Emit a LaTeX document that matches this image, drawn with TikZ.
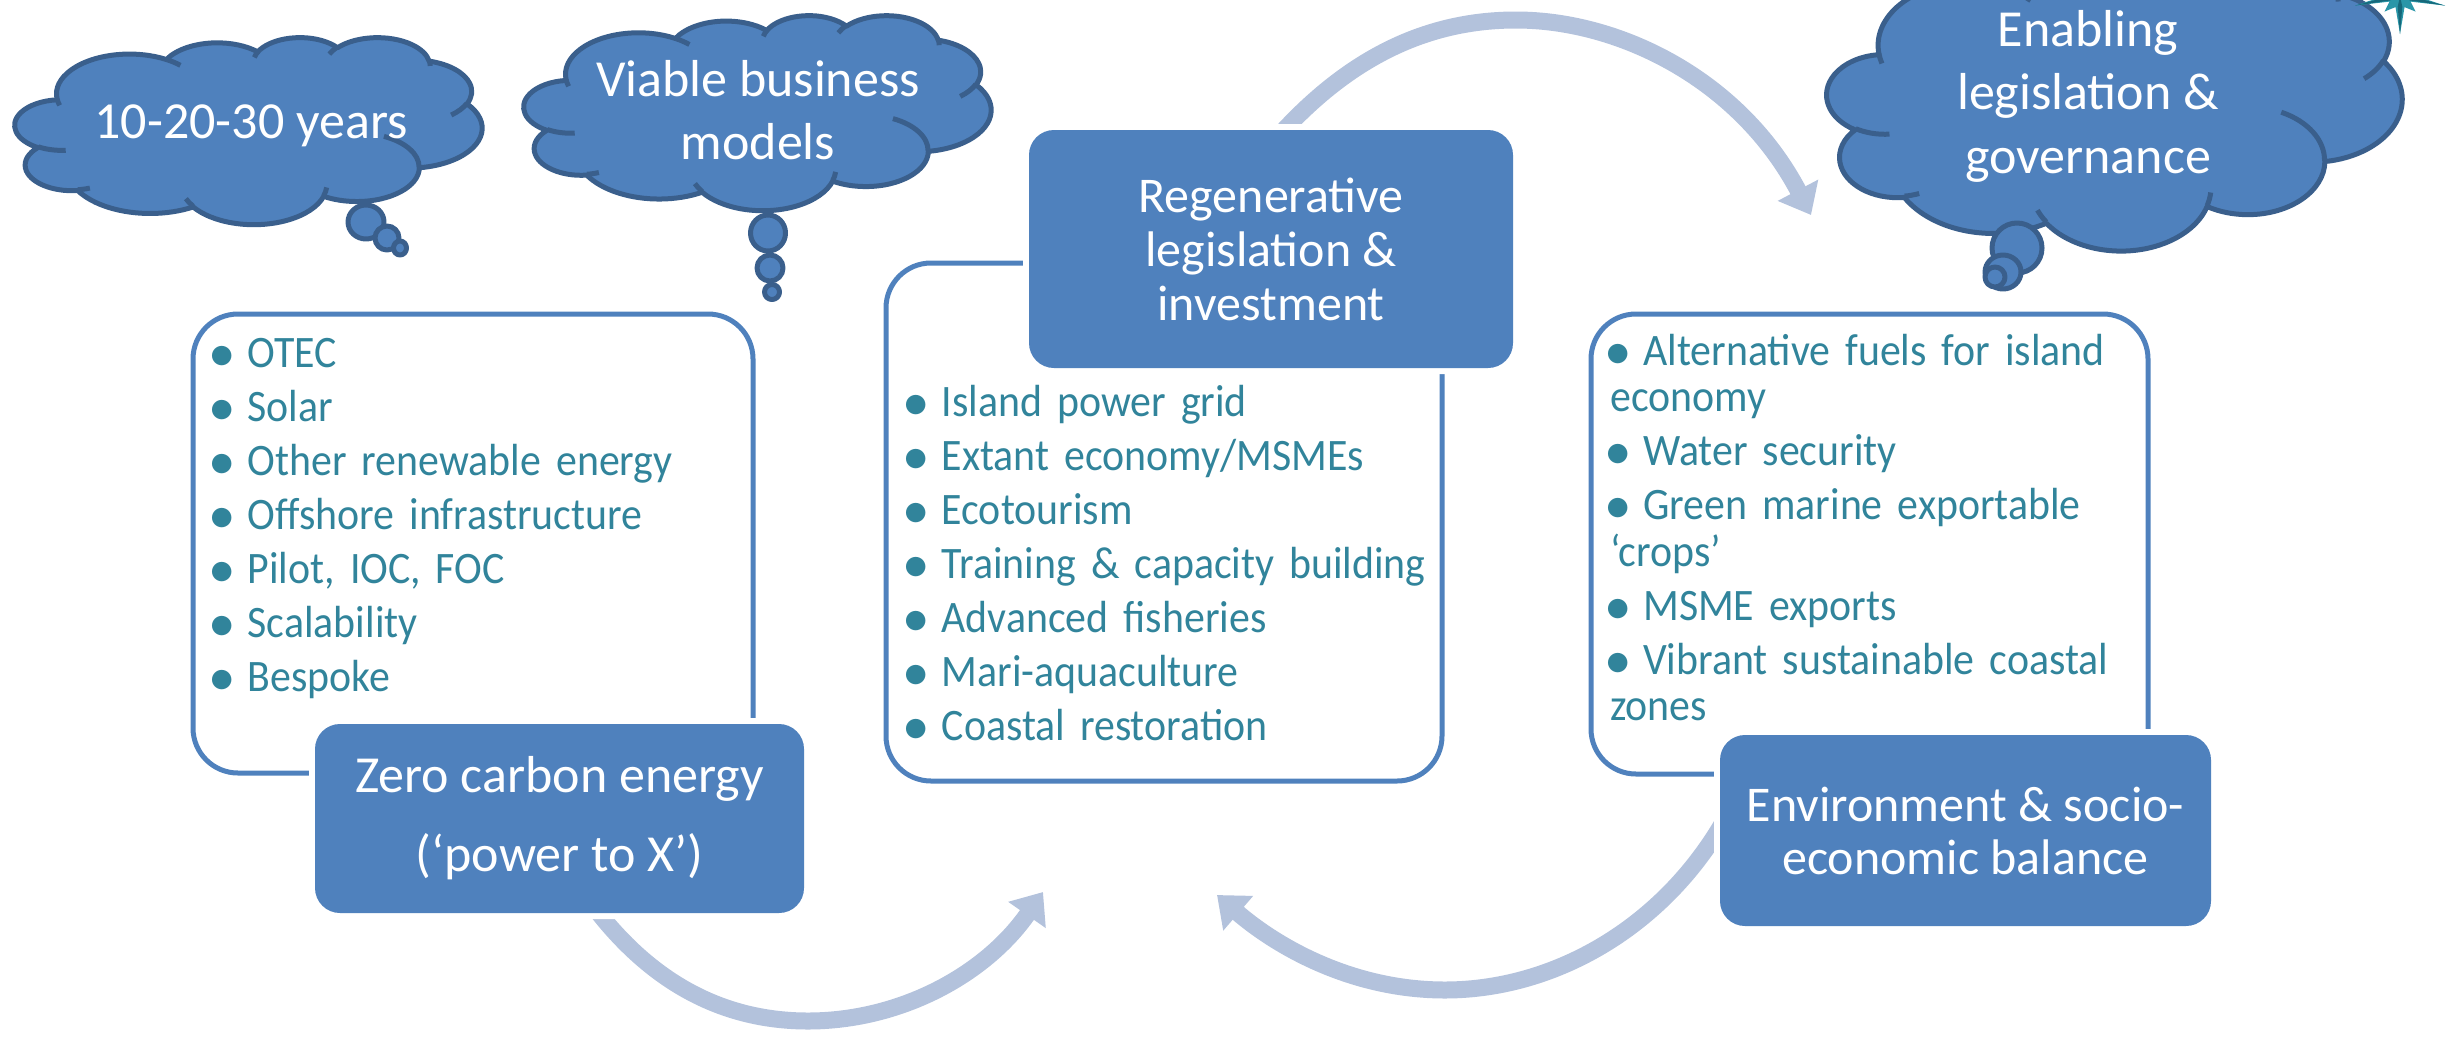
\documentclass[tikz,border=0pt]{standalone}
\usepackage{fontspec}
\setmainfont{Carlito}
\newfontfamily\itemfont{Carlito}[FakeStretch=0.93]
\usetikzlibrary{arrows.meta}

\definecolor{boxblue}{HTML}{4F81BD}
\definecolor{cloudedge}{HTML}{3A5F8C}
\definecolor{flowarrow}{HTML}{B3C2DC}
\definecolor{itemteal}{HTML}{31849B}
\definecolor{starteal}{HTML}{17687A}
\definecolor{starlight}{HTML}{2A96A8}

% elliptical arc given by radii, start angle and sweep (angles measured along the ray)
\newcommand\carc[4]{arc[x radius=#1, y radius=#2,
  start angle={-atan2((#1)*sin(#3),(#2)*cos(#3))},
  delta angle={-(mod(atan2((#1)*sin((#3)+(#4)),(#2)*cos((#3)+(#4)))-atan2((#1)*sin(#3),(#2)*cos(#3))-(#4)+540,360)-180+(#4))}]}

% cloud outline in a 43.2 x 43.2 frame
\newcommand\cloudoutline{(3.9,-14.37)
 \carc{6.753}{9.19}{-190.4875}{123.7805}
 \carc{5.333}{7.267}{-144.1024}{89.9452}
 \carc{4.365}{5.945}{-145.8079}{99.7230}
 \carc{4.857}{6.595}{-130.9861}{117.2417}
 \carc{5.333}{7.273}{-78.7089}{109.0269}
 \carc{6.775}{9.22}{-46.2673}{130.2690}
 \carc{5.785}{7.867}{0.6250}{114.0333}
 \carc{6.752}{9.215}{22.4516}{115.1726}
 \carc{7.72}{10.543}{66.2426}{75.7110}
 \carc{4.36}{5.918}{-274.9421}{146.7356}
 \carc{4.345}{5.945}{-246.8285}{152.5189}
 -- cycle}

% inner puff creases
\newcommand\cloudinner{(4.693,-26.177) \carc{4.345}{5.945}{86.7420}{26.4295}
 (6.928,-34.899) \carc{4.36}{5.918}{73.6105}{11.4475}
 (16.478,-39.09) \carc{6.752}{9.215}{137.6242}{14.0811}
 (28.827,-34.751) \carc{6.752}{9.215}{6.4533}{15.9984}
 (34.129,-22.954) \carc{5.785}{7.867}{-70.2924}{70.9174}
 (41.798,-15.354) \carc{5.333}{7.273}{30.3180}{27.7515}
 (38.324,-5.426) \carc{4.857}{6.595}{-13.7443}{14.8589}
 (29.078,-3.952) \carc{4.857}{6.595}{-149.1815}{18.1954}
 (22.141,-4.72) \carc{4.365}{5.945}{-163.4943}{17.6864}
 (14.0,-5.192) \carc{6.753}{9.19}{-66.7070}{12.3194}
 (4.127,-15.789) \carc{6.753}{9.19}{157.6544}{11.8582}}

% cloud placed in the frame x0, y0, width, height
\newcommand\cloudat[4]{%
 \begin{scope}[shift={(#1,#2)}, x=1pt, y=1pt, xscale=#3/43.2, yscale=#4/43.2]
  \draw[cloudline, fill=boxblue] \cloudoutline;
  \draw[cloudline] \cloudinner;
 \end{scope}}

% one bullet item with hanging indent
\newcommand\bitem[1]{\par\hangindent=33pt\hangafter=1\noindent
  \makebox[33pt][l]{\kern-6pt\raisebox{-4pt}{\rmfamily\fontsize{55}{55}\selectfont\textbullet}}\rule{0pt}{35pt}#1}

\tikzset{
  outlinebox/.style={draw=boxblue, line width=5pt, rounded corners=45pt, inner sep=0pt},
  bluebox/.style={fill=boxblue, rounded corners=25pt, text=white, align=center, inner sep=0pt,
    preaction={draw=white, line width=12pt}},
  cloudline/.style={draw=cloudedge, line width=5pt, line join=round},
  bubble/.style={cloudline, fill=boxblue},
  cloudtext/.style={text=white, align=center, inner sep=0pt, font={\fontsize{52}{63}\selectfont}},
  itemlist/.style={anchor=north west, inner sep=0pt, text=itemteal, align=left, text width=560pt,
    font={\itemfont\fontsize{45}{46.5}\selectfont}},
  flow/.style={draw=flowarrow, line width=17pt, -{Triangle[length=28pt, width=44pt]}}
}

\begin{document}
\begin{tikzpicture}[x=1pt, y=-1pt]
\useasboundingbox (0,0) rectangle (2459,1037);

% ---------- curved flow arrows ----------
\coordinate (zeroout) at (575,880);
\coordinate (tipA) at (1043,892);
\coordinate (envout) at (1740,790);
\coordinate (tipB) at (1217,895);
\coordinate (regenout) at (1275,140);
\coordinate (tipC) at (1811,215);

\draw[flow] (zeroout) .. controls (640,980) and (720,1021) .. (808,1021)
  .. controls (900,1021) and (985,975) .. (tipA);
\draw[flow] (envout) .. controls (1680,920) and (1560,990) .. (1445,990)
  .. controls (1350,990) and (1275,945) .. (tipB);
\draw[flow] (regenout) .. controls (1350,55) and (1430,20) .. (1516,20)
  .. controls (1620,20) and (1740,80) .. (tipC);

% ---------- outlined panels ----------
\node[outlinebox, minimum width=560pt, minimum height=459pt] (leftframe) at (473,543.5) {};
\node[outlinebox, minimum width=556pt, minimum height=518pt] (midframe) at (1164,522) {};
\node[outlinebox, minimum width=557pt, minimum height=460pt] (rightframe) at (1869.5,544) {};

% ---------- bullet lists ----------
\node[itemlist] (leftlist) at (214.5,313) {\setlength{\parskip}{7.5pt}%
  \bitem{OTEC}\bitem{Solar}\bitem{Other renewable energy}\bitem{Offshore infrastructure}%
  \bitem{Pilot, IOC, FOC}\bitem{Scalability}\bitem{Bespoke}};
\node[itemlist] (midlist) at (908.5,362) {\setlength{\parskip}{7.5pt}%
  \bitem{Island power grid}\bitem{Extant economy/MSMEs}\bitem{Ecotourism}%
  \bitem{Training \& capacity building}\bitem{Advanced fisheries}\bitem{Mari-aquaculture}%
  \bitem{Coastal restoration}};
\node[itemlist] (rightlist) at (1610,311) {\setlength{\parskip}{7.5pt}%
  \bitem{Alternative fuels for island\\economy}\bitem{Water security}%
  \bitem{Green marine exportable\\‘crops’}\bitem{MSME exports}%
  \bitem{Vibrant sustainable coastal\\zones}};

% ---------- filled title boxes ----------
\node[bluebox, minimum width=489pt, minimum height=189pt, font={\fontsize{52}{79}\selectfont}]
  (zero) at (559.5,818.5) {Zero carbon energy\\(‘power to X’)};
\node[bluebox, minimum width=484pt, minimum height=238pt, font={\fontsize{50}{54}\selectfont}]
  (regen) at (1271,249) {Regenerative\\legislation \&\\investment};
\node[bluebox, minimum width=491pt, minimum height=191pt, font={\fontsize{50}{53}\selectfont}]
  (envbal) at (1965.5,830.5) {Environment \& socio-\\economic balance};

% ---------- thought clouds ----------
\cloudat{15}{37}{467}{187}
\draw[bubble] (366,222) ellipse [x radius=18pt, y radius=17pt];
\draw[bubble] (387,238) ellipse [x radius=12pt, y radius=12pt];
\draw[bubble] (400,248) ellipse [x radius=6.5pt, y radius=7pt];
\node[cloudtext] (years) at (251,126) {10-20-30 years};

\cloudat{524}{15}{467}{195}
\draw[bubble] (768,233) ellipse [x radius=17.5pt, y radius=18pt];
\draw[bubble] (770,268) ellipse [x radius=13pt, y radius=13pt];
\draw[bubble] (772,292) ellipse [x radius=7.5pt, y radius=7.5pt];
\node[cloudtext] (business) at (758,110) {Viable business\\models};

\cloudat{1827}{-44}{575}{294}
\draw[bubble] (2017,248) ellipse [x radius=25pt, y radius=25pt];
\draw[bubble] (2003,272) ellipse [x radius=18pt, y radius=17pt];
\draw[bubble] (1995,277) ellipse [x radius=10pt, y radius=10pt];
\node[cloudtext, font={\fontsize{52}{63.5}\selectfont}] (enabling) at (2088,96)
  {Enabling\\legislation \&\\governance};

% ---------- compass star emblem ----------
\fill[starlight] (2400,-4) +(90:38) -- +(68:12) -- +(45:22) -- +(28:12) -- +(12:46) -- +(-6:12)
  -- +(-30:40) -- +(-50:12) -- +(-70:30) -- +(-90:12) -- +(-110:30) -- +(-130:12) -- +(-150:40)
  -- +(-174:12) -- +(168:46) -- +(152:12) -- +(135:22) -- +(112:12) -- cycle;
\fill[starteal] (2400,-4) -- +(78:11) -- +(90:38) -- +(102:11) -- cycle
  (2400,-4) -- +(2:11) -- +(12:46) -- +(24:11) -- cycle
  (2400,-4) -- +(156:11) -- +(168:46) -- +(178:11) -- cycle;
\end{tikzpicture}
\end{document}
